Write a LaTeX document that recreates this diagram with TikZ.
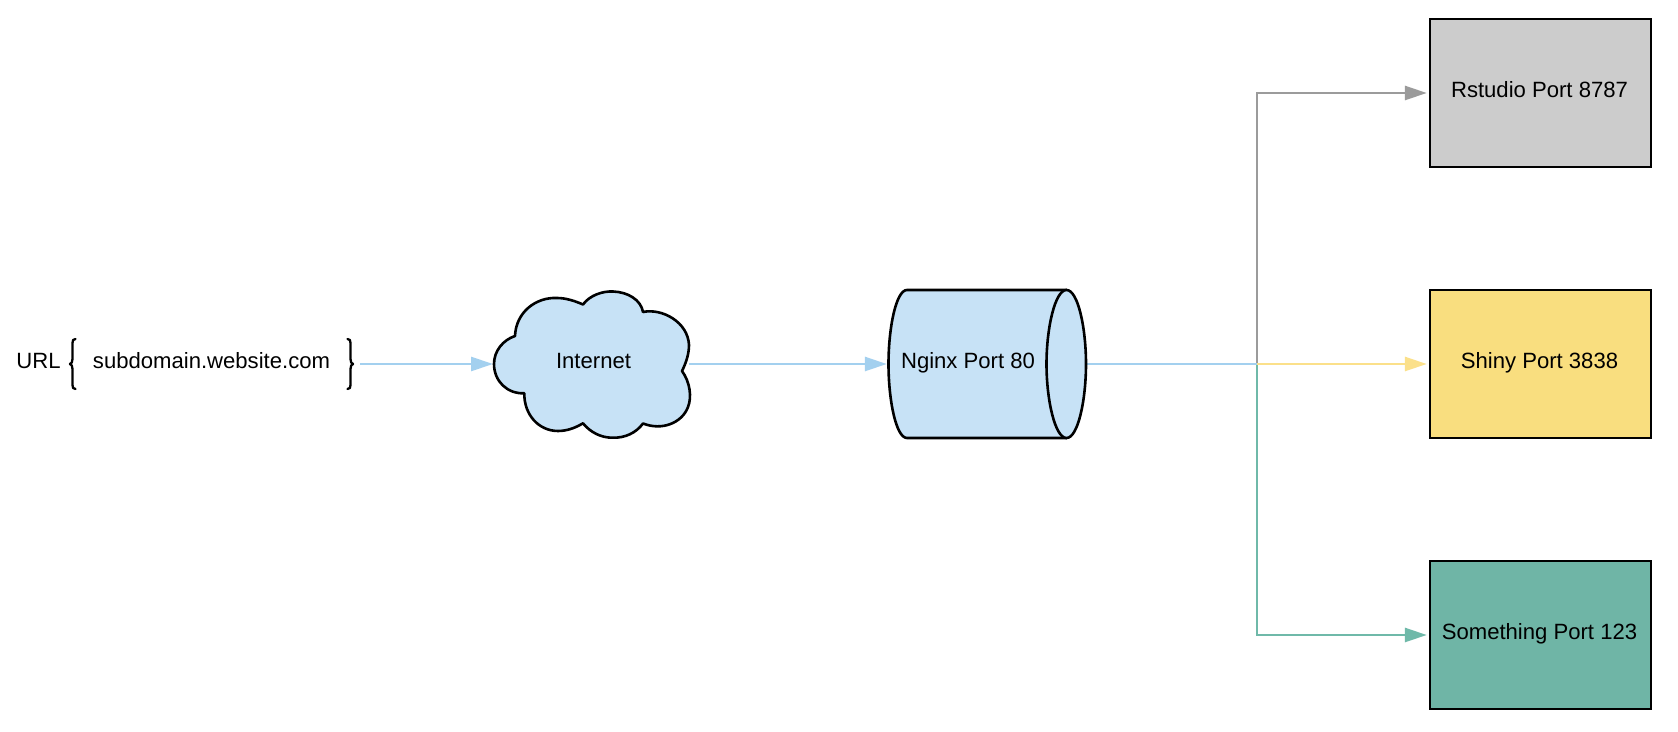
\documentclass[tikz,border=0pt]{standalone}
\usepackage{fontspec}
\setmainfont{Liberation Sans}
\usetikzlibrary{arrows.meta}
\definecolor{skyfill}{HTML}{C7E2F6}
\definecolor{skyline}{HTML}{A3D0EF}
\definecolor{greyfill}{HTML}{CCCCCC}
\definecolor{greyline}{HTML}{9B9B9B}
\definecolor{sunfill}{HTML}{F9DE7F}
\definecolor{sunline}{HTML}{FBE08A}
\definecolor{tealfill}{HTML}{6FB5A6}
\definecolor{tealline}{HTML}{6FB9A9}
\tikzset{
  label text/.style={font=\fontsize{11.05pt}{13pt}\selectfont, text=black, inner sep=0pt, outer sep=0pt, text height=8pt, text depth=3pt},
  portbox/.style={label text, draw=black, line width=1.3pt, minimum width=110.5pt, minimum height=74pt},
  anchorbox/.style={inner sep=0pt, outer sep=0pt, minimum width=#1},
  shapeline/.style={draw=black, line width=1.3pt, fill=skyfill, line join=round},
  link/.style={line width=1.4pt, -{Triangle[length=11pt,width=7pt]}},
  bracket/.style={draw=black, line width=1.15pt, line cap=round, line join=round}
}
\begin{document}
\begin{tikzpicture}[x=0.5pt,y=-0.5pt]
\useasboundingbox (0,0) rectangle (1678,732);
% boxes
\node[portbox, fill=greyfill] (rstudio) at (1540.5,93) {\hspace*{-1pt}Rstudio Port 8787};
\node[portbox, fill=sunfill] (shiny) at (1540.5,364) {\hspace*{-1pt}Shiny Port 3838};
\node[portbox, fill=tealfill] (something) at (1540.5,635) {\hspace*{-1pt}Something Port 123};
% invisible anchors of the drawn shapes
\node[anchorbox=98pt, minimum height=73pt] (cloud) at (591,364) {};
\node[anchorbox=99pt, minimum height=74pt] (nginx) at (987,364) {};
\coordinate (urlend) at (360,364);
\coordinate (jct) at (1257,364);
% connectors
\draw[link, draw=greyline, shorten >=1.6pt] (nginx.east) -- (jct) |- (rstudio.west);
\draw[link, draw=tealline, shorten >=1.6pt] (nginx.east) -- (jct) |- (something.west);
\draw[link, draw=sunline, shorten >=1.6pt] (nginx.east) -- (shiny.west);
\draw[line width=1.4pt, draw=skyline] (nginx.east) -- (jct);
\draw[link, draw=skyline] (urlend) -- (cloud.west);
\draw[link, draw=skyline, shorten >=0.6pt] (cloud.east) -- (nginx.west);
% cloud
\draw[shapeline] (515,336)
  .. controls (516,312) and (536,297) .. (557,298)
  .. controls (566,298) and (575,301) .. (583,304.5)
  .. controls (590,295) and (603,291) .. (613,291.5)
  .. controls (628,292) and (641,300) .. (643,312)
  .. controls (662,308) and (688,322) .. (689,345)
  .. controls (689,354) and (686,363) .. (682,371)
  .. controls (690,382) and (692,397) .. (688,407)
  .. controls (682,423) and (662,431) .. (643,423.5)
  .. controls (636,433) and (625,438) .. (613,437.7)
  .. controls (601,438) and (590,432) .. (583,423.3)
  .. controls (575,428) and (567,431) .. (558,431)
  .. controls (539,431) and (524,415) .. (524.3,393.3)
  .. controls (507,394) and (494,381) .. (494,364)
  .. controls (494,351) and (503,340) .. (515,336) -- cycle;
% cylinder
\draw[shapeline] (907,290) -- (1066.5,290) -- (1066.5,438) -- (907,438)
  .. controls (896,438) and (888.5,400) .. (888.5,364)
  .. controls (888.5,328) and (896,290) .. (907,290) -- cycle;
\draw[shapeline] (1066.5,290)
  .. controls (1078,290) and (1086,328) .. (1086,364)
  .. controls (1086,400) and (1078,438) .. (1066.5,438)
  .. controls (1055,438) and (1046.5,400) .. (1046.5,364)
  .. controls (1046.5,328) and (1055,290) .. (1066.5,290) -- cycle;
% labels
\node[label text] (internetlabel) at (593.5,364) {Internet};
\node[label text] (nginxlabel) at (968,364) {Nginx Port 80};
\node[label text] (urllabel) at (38.5,364) {URL};
\node[label text] (domain) at (211.5,364) {subdomain.website.com};
% brackets
\draw[bracket] (75.5,339) .. controls (73,339) and (72.5,340.5) .. (72.5,343) -- (72.5,359)
  .. controls (72.5,362) and (71.5,363.5) .. (70,364)
  .. controls (71.5,364.5) and (72.5,366) .. (72.5,369) -- (72.5,385)
  .. controls (72.5,387.5) and (73,389) .. (75.5,389);
\draw[bracket] (347.5,339) .. controls (350,339) and (350.5,340.5) .. (350.5,343) -- (350.5,359)
  .. controls (350.5,362) and (351.5,363.5) .. (353,364)
  .. controls (351.5,364.5) and (350.5,366) .. (350.5,369) -- (350.5,385)
  .. controls (350.5,387.5) and (350,389) .. (347.5,389);
\end{tikzpicture}
\end{document}
